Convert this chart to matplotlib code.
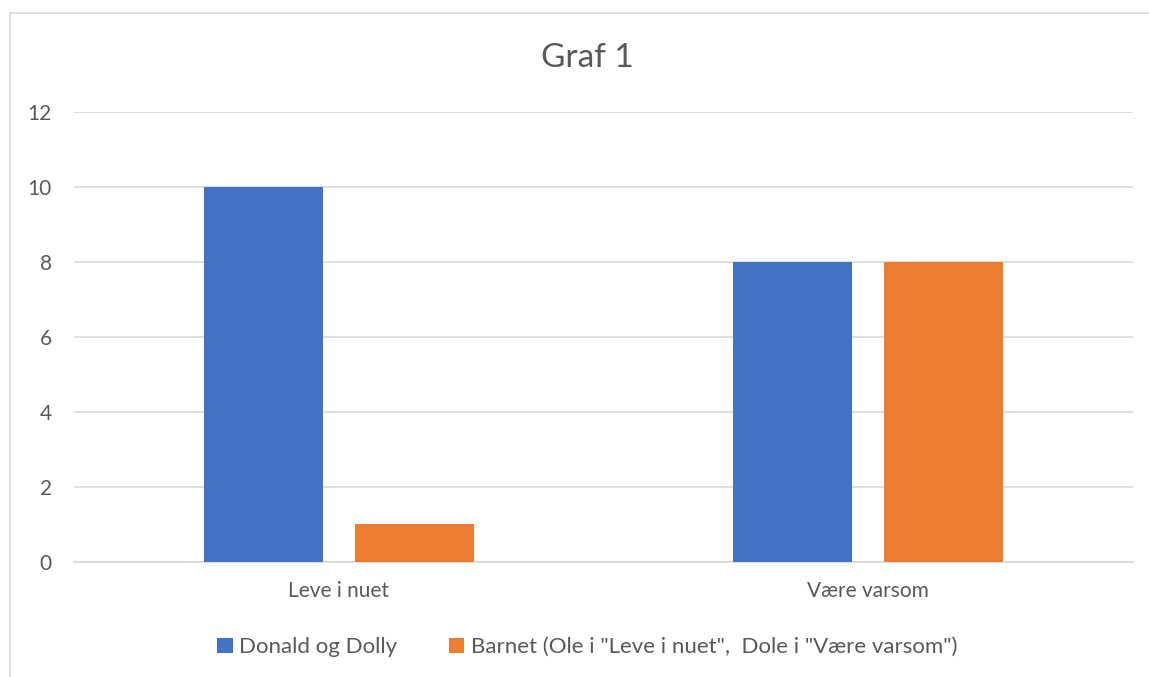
import numpy as np
from matplotlib import pyplot as plt
from matplotlib.lines import Line2D

categories = ["Leve i nuet", "Være varsom"]
donald_dolly = [10, 8]
barnet = [1, 8]
series_names = ["Donald og Dolly", 'Barnet (Ole i "Leve i nuet",  Dole i "Være varsom")']

blue = "#4472C4"
orange = "#ED7D31"
grey_text = "#595959"

plt.rcParams['font.family'] = ['Lato', 'DejaVu Sans']

fig = plt.figure(figsize=(11.49, 6.77), dpi=100)
ax = fig.add_axes([0.0644, 0.1699, 0.9216, 0.6647])

x = np.arange(len(categories))
width = 0.225
offset = 0.1425
ax.bar(x - offset, donald_dolly, width, color=blue, label=series_names[0], zorder=3)
ax.bar(x + offset, barnet, width, color=orange, label=series_names[1], zorder=3)

ax.set_xlim(-0.5, len(categories) - 0.5)
ax.set_ylim(0, 12)
ax.set_yticks(np.arange(0, 13, 2))
ax.set_xticks(x)
ax.set_xticklabels(categories)
ax.grid(axis="y", color="#d9d9d9", linewidth=1.2, zorder=0)
for side in ["top", "right", "left"]:
    ax.spines[side].set_visible(False)
ax.spines["bottom"].set_color("#d9d9d9")
ax.spines["bottom"].set_linewidth(1.2)
ax.tick_params(axis="both", length=0, labelsize=15, labelcolor=grey_text)
ax.tick_params(axis="y", pad=16)
ax.tick_params(axis="x", pad=14)

fig.text(0.511, 0.914, "Graf 1", ha="center", va="center", fontsize=24, color=grey_text)

handles, labels = ax.get_legend_handles_labels()
fig.legend(handles, labels, loc="center", bbox_to_anchor=(0.511, 0.044), ncol=2,
           frameon=False, fontsize=16, labelcolor=grey_text, handlelength=0.7,
           handleheight=0.7, handletextpad=0.3, columnspacing=2.3)

# chart area border (only left and top visible in the crop)
fig.add_artist(Line2D([0.009, 0.009], [0, 0.981], color="#d9d9d9", linewidth=1.2))
fig.add_artist(Line2D([0.009, 1.0], [0.981, 0.981], color="#d9d9d9", linewidth=1.2))

plt.savefig("out.png", dpi=100)
